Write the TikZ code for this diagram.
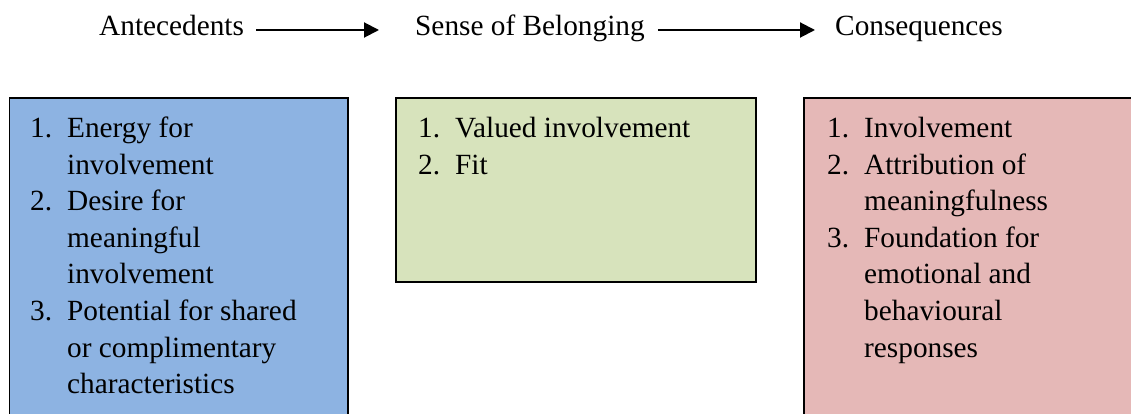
\documentclass[tikz,border=0pt]{standalone}
\usepackage{fontspec}
\setmainfont{Liberation Serif}[Ligatures=TeX]
\newfontfamily\figfont{Liberation Serif}
\usetikzlibrary{arrows.meta}
\definecolor{boxblue}{HTML}{8DB3E2}
\definecolor{boxgreen}{HTML}{D7E3BC}
\definecolor{boxpink}{HTML}{E5B8B7}
\tikzset{
  lbl/.style={inner sep=0pt, anchor=base west, font=\figfont\fontsize{29.3}{36.5}\selectfont},
  colbox/.style={draw=black, line width=1.6pt},
  flow/.style={line width=2pt, -{Triangle[length=15pt,width=15pt]}},
}
\newcommand{\boxlist}[1]{\begin{tabular}[t]{@{}p{37pt}@{}l@{}}#1\end{tabular}}
\begin{document}
\begin{tikzpicture}[x=1pt,y=-1pt]
\useasboundingbox (0,0) rectangle (1131,414);
\clip (0,0) rectangle (1131,414);
% boxes
\draw[colbox, fill=boxblue] (9.5,98) rectangle (348,440);
\draw[colbox, fill=boxgreen] (396,98) rectangle (756,282);
\draw[colbox, fill=boxpink] (804,98) rectangle (1150,440);
% header
\node[lbl] (ante) at (99,36) {Antecedents};
\node[lbl] (sob) at (415,36) {Sense of Belonging};
\node[lbl] (cons) at (835,36) {Consequences};
\draw[flow] ([xshift=12pt,yshift=6pt]ante.base east) -- ([xshift=-36pt,yshift=6pt]sob.base west);
\draw[flow] ([xshift=13pt,yshift=6pt]sob.base east) -- ([xshift=-20pt,yshift=6pt]cons.base west);
% lists
\node[lbl] (antelist) at (30,138) {\boxlist{1. & Energy for\\ & involvement\\ 2. & Desire for\\ & meaningful\\ & involvement\\ 3. & Potential for shared\\ & or complimentary\\ & characteristics}};
\node[lbl] (soblist) at (418,138) {\boxlist{1. & Valued involvement\\ 2. & Fit}};
\node[lbl] (conslist) at (827,138) {\boxlist{1. & Involvement\\ 2. & Attribution of\\ & meaningfulness\\ 3. & Foundation for\\ & emotional and\\ & behavioural\\ & responses}};
\end{tikzpicture}
\end{document}
